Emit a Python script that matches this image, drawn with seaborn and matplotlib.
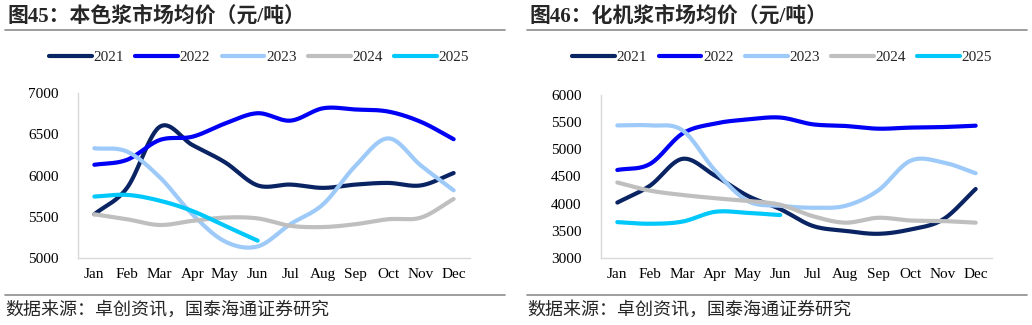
import numpy as np
import pandas as pd
import matplotlib
matplotlib.use("Agg")
import matplotlib.pyplot as plt
import seaborn as sns
from matplotlib.lines import Line2D

months = ["Jan", "Feb", "Mar", "Apr", "May", "Jun", "Jul", "Aug", "Sep", "Oct", "Nov", "Dec"]
years = ["2021", "2022", "2023", "2024", "2025"]
colors = ["#0A2463", "#0000F5", "#9DCAF8", "#BFBFBF", "#00C8FA"]

# 本色浆市场均价
left_2021 = [5530, 5850, 6590, 6370, 6160, 5880, 5890, 5850, 5890, 5910, 5880, 6030]
left_2022 = [6130, 6190, 6430, 6470, 6630, 6755, 6665, 6815, 6800, 6775, 6650, 6440]
left_2023 = [6330, 6290, 5980, 5530, 5200, 5140, 5410, 5650, 6120, 6450, 6120, 5820]
left_2024 = [5530, 5470, 5400, 5450, 5490, 5480, 5390, 5375, 5410, 5470, 5490, 5715]
left_2025 = [5745, 5765, 5695, 5570, 5390, 5210]

# 化机浆市场均价
right_2021 = [4020, 4330, 4825, 4515, 4145, 3900, 3590, 3500, 3445, 3525, 3710, 4270]
right_2022 = [4620, 4730, 5290, 5475, 5550, 5585, 5460, 5430, 5380, 5400, 5410, 5435]
right_2023 = [5440, 5440, 5350, 4610, 4050, 3960, 3925, 3960, 4240, 4790, 4760, 4560]
right_2024 = [4390, 4240, 4160, 4100, 4050, 3980, 3770, 3650, 3740, 3690, 3680, 3650]
right_2025 = [3660, 3630, 3670, 3850, 3830, 3790]

left_series = [left_2021, left_2022, left_2023, left_2024, left_2025]
right_series = [right_2021, right_2022, right_2023, right_2024, right_2025]

left_title = "图45：本色浆市场均价（元/吨）"
right_title = "图46：化机浆市场均价（元/吨）"
source = "数据来源：卓创资讯，国泰海通证券研究"


def smooth(vals, n=30):
    y = np.asarray(vals, dtype=float)
    x = np.arange(len(y), dtype=float)
    if len(y) < 3:
        return x, y
    yp = np.concatenate([[2 * y[0] - y[1]], y, [2 * y[-1] - y[-2]]])
    xs, ys = [], []
    for i in range(len(y) - 1):
        p0, p1, p2, p3 = yp[i], yp[i + 1], yp[i + 2], yp[i + 3]
        t = np.linspace(0, 1, n, endpoint=False)
        yy = 0.5 * ((2 * p1) + (-p0 + p2) * t + (2 * p0 - 5 * p1 + 4 * p2 - p3) * t ** 2
                    + (-p0 + 3 * p1 - 3 * p2 + p3) * t ** 3)
        xs.append(x[i] + t)
        ys.append(yy)
    xs.append([x[-1]])
    ys.append([y[-1]])
    return np.concatenate(xs), np.concatenate(ys)


def build_df(series):
    frames = []
    for yr, vals in zip(years, series):
        xs, ys = smooth(vals)
        frames.append(pd.DataFrame({"x": xs, "y": ys, "year": yr}))
    return pd.concat(frames, ignore_index=True)


sns.set_theme(style="white")
plt.rcParams["font.family"] = ["Liberation Serif", "Noto Sans CJK SC", "DejaVu Sans"]

fig = plt.figure(figsize=(10.32, 3.25), dpi=100)

axes_specs = [
    (left_series, [0.0756, 0.2062, 0.3798, 0.5076], (5000, 7000), left_title, 0.0068, 0.251, 0.005),
    (right_series, [0.5824, 0.2062, 0.3788, 0.5015], (3000, 6000), right_title, 0.513, 0.758, 0.511),
]

for series, rect, ylim, title, tx, legx, linex in axes_specs:
    ax = fig.add_axes(rect)
    df = build_df(series)
    sns.lineplot(data=df, x="x", y="y", hue="year", hue_order=years,
                 palette=colors, linewidth=3.0, sort=False, ax=ax, legend=True)
    for ln in ax.get_lines():
        ln.set_solid_capstyle("round")
    ax.set_xlim(-0.5, 11.5)
    ax.set_ylim(*ylim)
    ax.set_yticks(np.arange(ylim[0], ylim[1] + 1, 500))
    ax.set_xticks(range(12))
    ax.set_xticklabels(months)
    ax.set_xlabel("")
    ax.set_ylabel("")
    ax.tick_params(axis="both", length=0, labelsize=11, colors="black")
    ax.tick_params(axis="y", pad=14)
    ax.tick_params(axis="x", pad=7)
    for s in ["top", "right"]:
        ax.spines[s].set_visible(False)
    for s in ["left", "bottom"]:
        ax.spines[s].set_color("#D9D9D9")
        ax.spines[s].set_linewidth(1.0)
    handles, labels = ax.get_legend_handles_labels()
    for h in handles:
        h.set_linewidth(3.0)
        h.set_solid_capstyle("round")
    ax.legend(handles, labels, loc="center", bbox_to_anchor=(legx, 0.8246),
              bbox_transform=fig.transFigure, ncol=5, frameon=False,
              fontsize=11, handlelength=2.8, handletextpad=0.1, columnspacing=0.75)

    fig.text(tx, 0.948, title, fontsize=15, fontweight="bold", ha="left", va="center")
    fig.text(tx - 0.002, 0.048, source, fontsize=13, ha="left", va="center",
             family=["Noto Sans CJK SC", "DejaVu Sans"])
    fig.add_artist(Line2D([linex, linex + 0.484], [0.9077, 0.9077],
                          transform=fig.transFigure, color="#8C8C8C", linewidth=1.2))
    fig.add_artist(Line2D([linex, linex + 0.484], [0.092, 0.092],
                          transform=fig.transFigure, color="#8C8C8C", linewidth=1.2))

fig.savefig("out.png", dpi=100)
